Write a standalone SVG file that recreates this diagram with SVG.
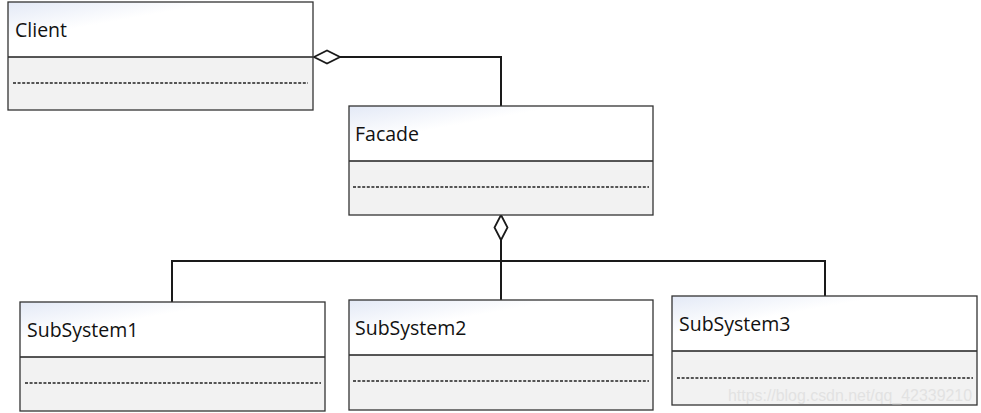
<svg xmlns="http://www.w3.org/2000/svg" width="981" height="413" viewBox="0 0 981 413">
<defs>
<linearGradient id="hdr" x1="0" y1="0" x2="1" y2="1" gradientUnits="objectBoundingBox">
<stop offset="0" stop-color="#e3e9f6"/>
<stop offset="0.35" stop-color="#ffffff"/>
<stop offset="1" stop-color="#ffffff"/>
</linearGradient>
</defs>
<style>
.hdr{fill:url(#hdr);stroke:none}
.body{fill:#f2f2f2;stroke:none}
.frame{fill:none;stroke:#333;stroke-width:1.3}
.div{stroke:#1f1f1f;stroke-width:1.3}
.dash{stroke:#222;stroke-width:1.6;stroke-dasharray:3 1.6}
.lbl{font-family:"Open Sans","Noto Sans",sans-serif;font-size:19.5px;fill:#111}
.conn{fill:none;stroke:#1a1a1a;stroke-width:2}
.wm{font-family:"Liberation Sans",Arial,sans-serif;font-size:16px;fill:#e2e2e2}
</style>
<rect width="981" height="413" fill="#ffffff"/>
<g id="connectors">
<path class="conn" d="M340,57 H501 V106" />
<path class="conn" d="M501,240 V300" />
<path class="conn" d="M172,302 V261 H825 V296" />
<path d="M314,57 L327,50.5 L340,57 L327,63.5 Z" fill="#ffffff" stroke="#1a1a1a" stroke-width="1.8"/>
<path d="M501,215 L507.5,227.5 L501,240 L494.5,227.5 Z" fill="#ffffff" stroke="#1a1a1a" stroke-width="1.8"/>
</g>
<g id="client">
<rect class="hdr" x="8" y="2" width="305" height="55"/>
<rect class="body" x="8" y="57" width="305" height="53"/>
<line class="div" x1="8" y1="57" x2="313" y2="57"/>
<line class="dash" x1="13" y1="83" x2="308" y2="83"/>
<rect class="frame" x="8" y="2" width="305" height="108"/>
<text class="lbl" x="15" y="37">Client</text>
</g>
<g id="facade">
<rect class="hdr" x="349" y="106" width="304" height="55"/>
<rect class="body" x="349" y="161" width="304" height="54"/>
<line class="div" x1="349" y1="161" x2="653" y2="161"/>
<line class="dash" x1="353" y1="187" x2="649" y2="187"/>
<rect class="frame" x="349" y="106" width="304" height="109"/>
<text class="lbl" x="355" y="141">Facade</text>
</g>
<g id="subsystem1">
<rect class="hdr" x="20" y="302" width="305" height="55"/>
<rect class="body" x="20" y="357" width="305" height="54"/>
<line class="div" x1="20" y1="357" x2="325" y2="357"/>
<line class="dash" x1="25" y1="383" x2="321" y2="383"/>
<rect class="frame" x="20" y="302" width="305" height="109"/>
<text class="lbl" x="27" y="337">SubSystem1</text>
</g>
<g id="subsystem2">
<rect class="hdr" x="349" y="300" width="304" height="55"/>
<rect class="body" x="349" y="355" width="304" height="55"/>
<line class="div" x1="349" y1="355" x2="653" y2="355"/>
<line class="dash" x1="353" y1="381" x2="649" y2="381"/>
<rect class="frame" x="349" y="300" width="304" height="110"/>
<text class="lbl" x="355" y="335">SubSystem2</text>
</g>
<g id="subsystem3">
<rect class="hdr" x="672" y="296" width="305" height="55"/>
<rect class="body" x="672" y="351" width="305" height="54"/>
<line class="div" x1="672" y1="351" x2="977" y2="351"/>
<line class="dash" x1="677" y1="378" x2="973" y2="378"/>
<rect class="frame" x="672" y="296" width="305" height="109"/>
<text class="lbl" x="679" y="331">SubSystem3</text>
</g>
<text class="wm" x="728" y="401" textLength="244" lengthAdjust="spacingAndGlyphs">https://blog.csdn.net/qq_42339210</text>
</svg>
